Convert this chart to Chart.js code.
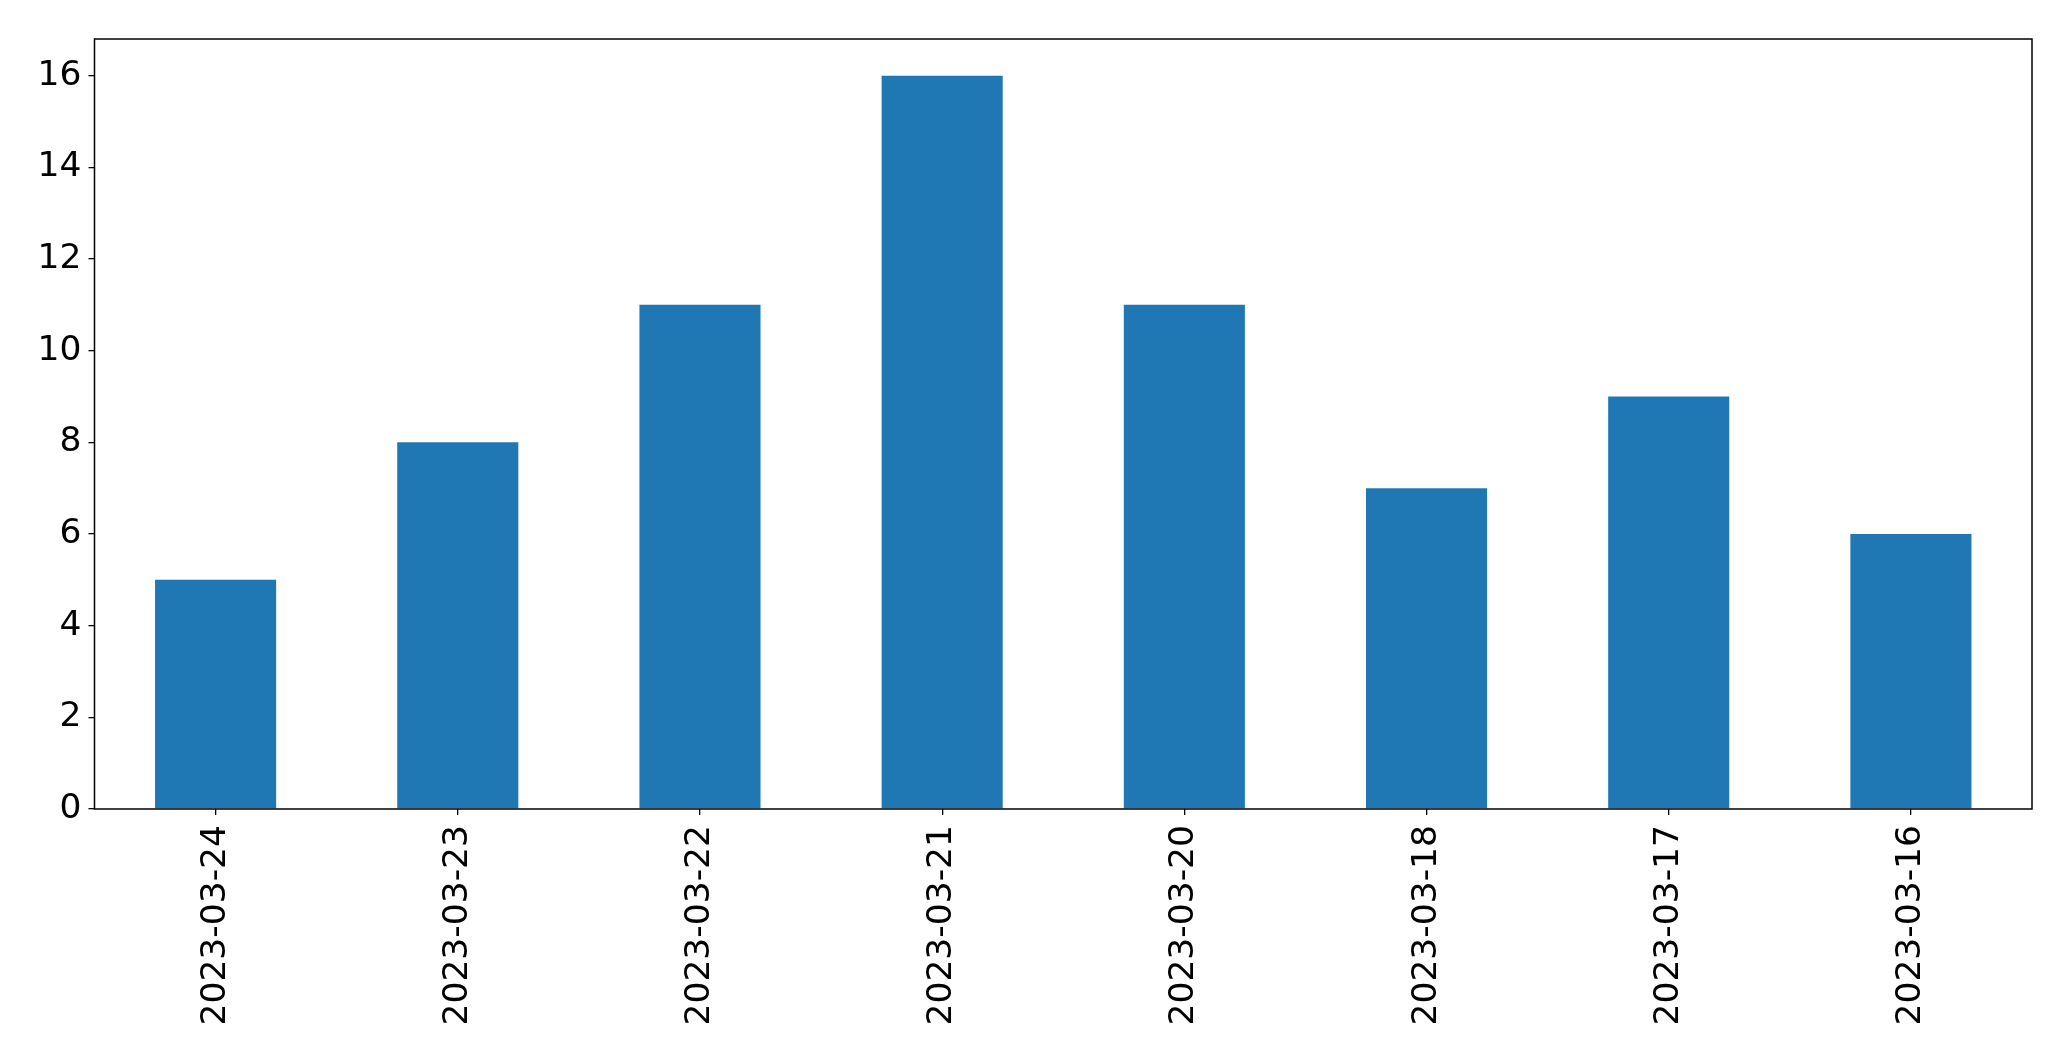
<!DOCTYPE html>
<html>
<head>
<meta charset="utf-8">
<script src="https://cdn.jsdelivr.net/npm/chart.js@4/dist/chart.umd.min.js"></script>
<style>
  html, body { margin: 0; padding: 0; background: #fff; }
  canvas { display: block; }
</style>
</head>
<body>
<canvas id="chart" width="2071" height="1061"></canvas>
<script>
const dates = ["2023-03-24", "2023-03-23", "2023-03-22", "2023-03-21", "2023-03-20", "2023-03-18", "2023-03-17", "2023-03-16"];
const counts = [5, 8, 11, 16, 11, 7, 9, 6];
const yTicks = [0, 2, 4, 6, 8, 10, 12, 14, 16];

// рамка вакол вобласці графіка
const frame = {
  id: "frame",
  afterDraw(chart) {
    const { ctx, chartArea: a } = chart;
    ctx.save();
    ctx.strokeStyle = "#000";
    ctx.lineWidth = 1.5;
    ctx.strokeRect(a.left, a.top, a.right - a.left, a.bottom - a.top);
    ctx.restore();
  }
};

const font = { family: "'DejaVu Sans', sans-serif", size: 34.5 };

new Chart(document.getElementById("chart").getContext("2d"), {
  type: "bar",
  data: {
    labels: dates,
    datasets: [{
      data: counts,
      backgroundColor: "#1f77b4",
      barPercentage: 0.5,
      categoryPercentage: 1
    }]
  },
  options: {
    responsive: false,
    animation: false,
    layout: { padding: { top: 39, right: 39, left: 0, bottom: 0 } },
    plugins: { legend: { display: false }, tooltip: { enabled: false } },
    scales: {
      x: {
        offset: true,
        grid: { display: true, drawOnChartArea: false, offset: false, color: "#000", tickLength: 6, lineWidth: 1.3 },
        border: { display: false },
        ticks: { font, color: "#000", maxRotation: 90, minRotation: 90, padding: 10, autoSkip: false },
        afterFit(axis) { axis.height = 252; }
      },
      y: {
        min: 0,
        max: 16.8,
        grid: { display: true, drawOnChartArea: false, color: "#000", tickLength: 6, lineWidth: 1.3 },
        border: { display: false },
        ticks: { font, color: "#000", padding: 7 },
        afterBuildTicks(axis) { axis.ticks = yTicks.map(v => ({ value: v })); },
        afterFit(axis) { axis.width = 94.5; }
      }
    }
  },
  plugins: [frame]
});
</script>
</body>
</html>
